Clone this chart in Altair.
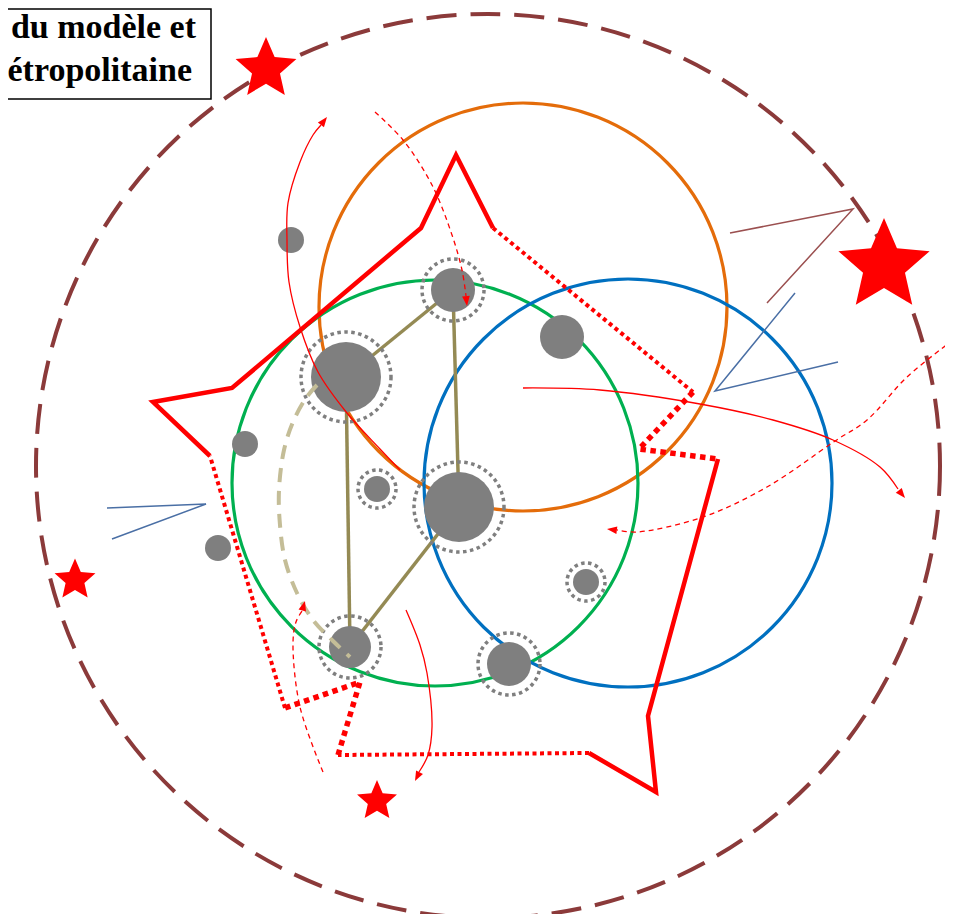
import altair as alt
import pandas as pd

# ---------------- data (reference pixel coordinates) ----------------
title_lines = ["du modèle et", "métropolitaine"]
title_x = [196, 192]
title_y = [38, 81]
title_box = {"x1": 0, "x2": 211, "y1": 9, "y2": 99}

outer_x, outer_y, outer_r = [488], [466], [452]

zone_x = [523, 435, 628]
zone_y = [307, 483, 483]
zone_r = [204, 203, 204]
zone_colors = ["#E46C0A", "#00B050", "#0070C0"]

node_x = [346, 459, 453, 350, 509, 377, 586, 291, 562, 245, 218]
node_y = [377, 507, 290, 647, 664, 489, 582, 240, 337, 444, 548]
node_r = [35, 35, 22, 21, 22, 13, 13, 13, 22, 13, 13]
ring_r = [45, 45, 31, 31, 31, 19, 19, 0, 0, 0, 0]
edges = [(0, 2), (2, 1), (0, 3), (1, 3)]

star_x = [266, 884, 75, 377]
star_y = [69, 266, 580, 801]
star_r = [32, 48, 21.5, 21]

poly_x = [456, 493, 693, 639, 718, 648, 656, 589, 338, 360, 285, 210, 153, 232, 421]
poly_y = [155, 228, 392, 449, 459, 716, 792, 753, 755, 682, 708, 456, 402, 388, 228]
poly_style = ["solid", "dot", "big", "big", "solid", "solid", "solid", "dot",
              "big", "big", "dot", "solid", "solid", "solid", "solid"]

vee_brown_x = [730, 853, 767]
vee_brown_y = [233, 209, 303]
vee_blue_r_x = [795, 715, 838]
vee_blue_r_y = [293, 391, 362]
vee_blue_l_x = [107, 206, 112]
vee_blue_l_y = [508, 504, 539]

arc_x = [317, 306, 293, 284, 279, 280, 285, 297, 313, 333, 350]
arc_y = [385, 398, 422, 450, 490, 525, 560, 593, 620, 641, 657]

curves = {
    "c1": ("solid", [400, 380, 347, 318, 300, 289, 287, 288, 300, 313, 321],
                    [470, 449, 413, 372, 327, 282, 240, 203, 162, 135, 125]),
    "c2": ("dash", [375, 403, 432, 452, 462, 466], [112, 140, 185, 235, 270, 296]),
    "c3": ("solid", [523, 600, 700, 773, 833, 880, 898], [388, 390, 404, 420, 440, 467, 489]),
    "c4": ("dash", [953, 907, 867, 835, 767, 703, 637, 617], [340, 377, 420, 441, 487, 517, 532, 530]),
    "c5": ("solid", [406, 420, 427, 432, 428, 419], [610, 645, 673, 727, 755, 772]),
    "c6": ("dash", [323, 300, 293, 296, 302], [772, 707, 643, 622, 611]),
}
arrow_x = [327, 467, 905, 607, 415, 305]
arrow_y = [117, 306, 498, 529, 781, 601]
arrow_angle = [38, 174, 141, 277, 207, 16]

# ---------------- helpers ----------------
XS = alt.Scale(domain=[8, 945], nice=False, zero=False)
YS = alt.Scale(domain=[8, 914], nice=False, zero=False, reverse=True)


def X(f="x"):
    return alt.X(f"{f}:Q", scale=XS, axis=None)


def Y(f="y"):
    return alt.Y(f"{f}:Q", scale=YS, axis=None)


SIZE = alt.Size("s:Q", scale=None, legend=None)

# five-pointed star (outer radius 1, inner radius 0.46)
STAR = ("M0,-1L0.270,-0.372L0.951,-0.309L0.437,0.142L0.588,0.809L0,0.46"
        "L-0.588,0.809L-0.437,0.142L-0.951,-0.309L-0.270,-0.372Z")
ARROW = "M0,0L0.7,1.8L-0.7,1.8Z"

# ---------------- tables ----------------
zones = pd.DataFrame({"x": zone_x, "y": zone_y, "s": [(2 * r) ** 2 for r in zone_r], "c": zone_colors})
outer = pd.DataFrame({"x": outer_x, "y": outer_y, "s": [(2 * r) ** 2 for r in outer_r]})
nodes = pd.DataFrame({"x": node_x, "y": node_y, "s": [(2 * r) ** 2 for r in node_r]})
rings = pd.DataFrame({"x": node_x, "y": node_y, "s": [(2 * r) ** 2 for r in ring_r], "r": ring_r})
rings = rings[rings.r > 0]

erows = []
for k, (a, b) in enumerate(edges):
    erows.append({"e": k, "o": 0, "x": node_x[a], "y": node_y[a]})
    erows.append({"e": k, "o": 1, "x": node_x[b], "y": node_y[b]})
edf = pd.DataFrame(erows)

n = len(poly_x)
start = next(i for i in range(n) if poly_style[i] != poly_style[i - 1])
prow = []
run, prev, cnt = -1, None, 0
for k in range(n):
    i = (start + k) % n
    st = poly_style[i]
    if st != prev:
        run += 1
        prow.append({"run": run, "style": st, "o": 0, "x": poly_x[i], "y": poly_y[i]})
        cnt = 1
        prev = st
    j = (i + 1) % n
    prow.append({"run": run, "style": st, "o": cnt, "x": poly_x[j], "y": poly_y[j]})
    cnt += 1
pdf = pd.DataFrame(prow)


def polyline(xs, ys, gid="g"):
    return pd.DataFrame({"x": xs, "y": ys, "o": list(range(len(xs))), "g": gid})


vb = polyline(vee_brown_x, vee_brown_y)
vbr = pd.concat([polyline(vee_blue_r_x, vee_blue_r_y, "r"), polyline(vee_blue_l_x, vee_blue_l_y, "l")])
arc = polyline(arc_x, arc_y)
crows = []
for name, (st, xs, ys) in curves.items():
    d = polyline(xs, ys, name)
    d["style"] = st
    crows.append(d)
cdf = pd.concat(crows)
arrows = pd.DataFrame({"x": arrow_x, "y": arrow_y, "a": arrow_angle})
stars = pd.DataFrame({"x": star_x, "y": star_y, "s": [(2 * r) ** 2 for r in star_r]})
tbox = pd.DataFrame([title_box])
ttext = pd.DataFrame({"x": title_x, "y": title_y, "t": title_lines})

# ---------------- layers ----------------
L = []
L.append(alt.Chart(zones).mark_point(shape="circle", filled=False, strokeWidth=3.2, opacity=1).encode(
    x=X(), y=Y(), size=SIZE, color=alt.Color("c:N", scale=None)))
L.append(alt.Chart(outer).mark_point(shape="circle", filled=False, strokeWidth=4, opacity=1,
                                     color="#8B3A3A", strokeDash=[30, 14]).encode(x=X(), y=Y(), size=SIZE))
L.append(alt.Chart(edf).mark_line(color="#948A54", strokeWidth=3.5).encode(
    x=X(), y=Y(), detail="e:N", order=alt.Order("o:Q")))
L.append(alt.Chart(nodes).mark_point(shape="circle", filled=True, color="#7F7F7F", opacity=1,
                                     strokeWidth=0).encode(x=X(), y=Y(), size=SIZE))
L.append(alt.Chart(rings).mark_point(shape="circle", filled=False, color="#7F7F7F", opacity=1,
                                     strokeWidth=3.5, strokeDash=[3.5, 3.5]).encode(x=X(), y=Y(), size=SIZE))
styles = {"solid": dict(strokeWidth=4.5),
          "dot": dict(strokeWidth=4, strokeDash=[4, 3.5]),
          "big": dict(strokeWidth=5.5, strokeDash=[5.5, 4.5])}
for st, kw in styles.items():
    L.append(alt.Chart(pdf[pdf["style"] == st]).mark_line(color="#FF0000", **kw).encode(
        x=X(), y=Y(), detail="run:N", order=alt.Order("o:Q")))
L.append(alt.Chart(vb).mark_line(color="#9B5050", strokeWidth=1.5).encode(
    x=X(), y=Y(), detail="g:N", order=alt.Order("o:Q")))
L.append(alt.Chart(vbr).mark_line(color="#4A6FA5", strokeWidth=1.5).encode(
    x=X(), y=Y(), detail="g:N", order=alt.Order("o:Q")))
L.append(alt.Chart(arc).mark_line(color="#C4BD97", strokeWidth=4, strokeDash=[14, 9],
                                  interpolate="catmull-rom").encode(x=X(), y=Y(), order=alt.Order("o:Q")))
L.append(alt.Chart(cdf[cdf["style"] == "solid"]).mark_line(color="#FF0000", strokeWidth=1.3,
                                                            interpolate="catmull-rom").encode(
    x=X(), y=Y(), detail="g:N", order=alt.Order("o:Q")))
L.append(alt.Chart(cdf[cdf["style"] == "dash"]).mark_line(color="#FF0000", strokeWidth=1.3, strokeDash=[5, 4],
                                                           interpolate="catmull-rom").encode(
    x=X(), y=Y(), detail="g:N", order=alt.Order("o:Q")))
L.append(alt.Chart(arrows).mark_point(shape=ARROW, filled=True, color="#FF0000", opacity=1, size=121,
                                      strokeWidth=0).encode(x=X(), y=Y(), angle=alt.Angle("a:Q", scale=None)))
L.append(alt.Chart(stars).mark_point(shape=STAR, filled=True, color="#FF0000", opacity=1,
                                     strokeWidth=0).encode(x=X(), y=Y(), size=SIZE))
L.append(alt.Chart(tbox).mark_rect(fill="white", stroke="black", strokeWidth=1.5, clip=True).encode(
    x=X("x1"), x2=alt.X2("x2:Q"), y=Y("y1"), y2=alt.Y2("y2:Q")))
L.append(alt.Chart(ttext).mark_text(align="right", baseline="alphabetic", font="Liberation Serif",
                                    fontSize=34, fontWeight="bold", color="black", clip=True).encode(
    x=X(), y=Y(), text="t:N"))

chart = alt.layer(*L).properties(
    width=937, height=906, padding=0, autosize=alt.AutoSizeParams(type="none")
).configure_view(stroke=None)

chart.save("out.html", embed_options={"renderer": "svg", "actions": False})
